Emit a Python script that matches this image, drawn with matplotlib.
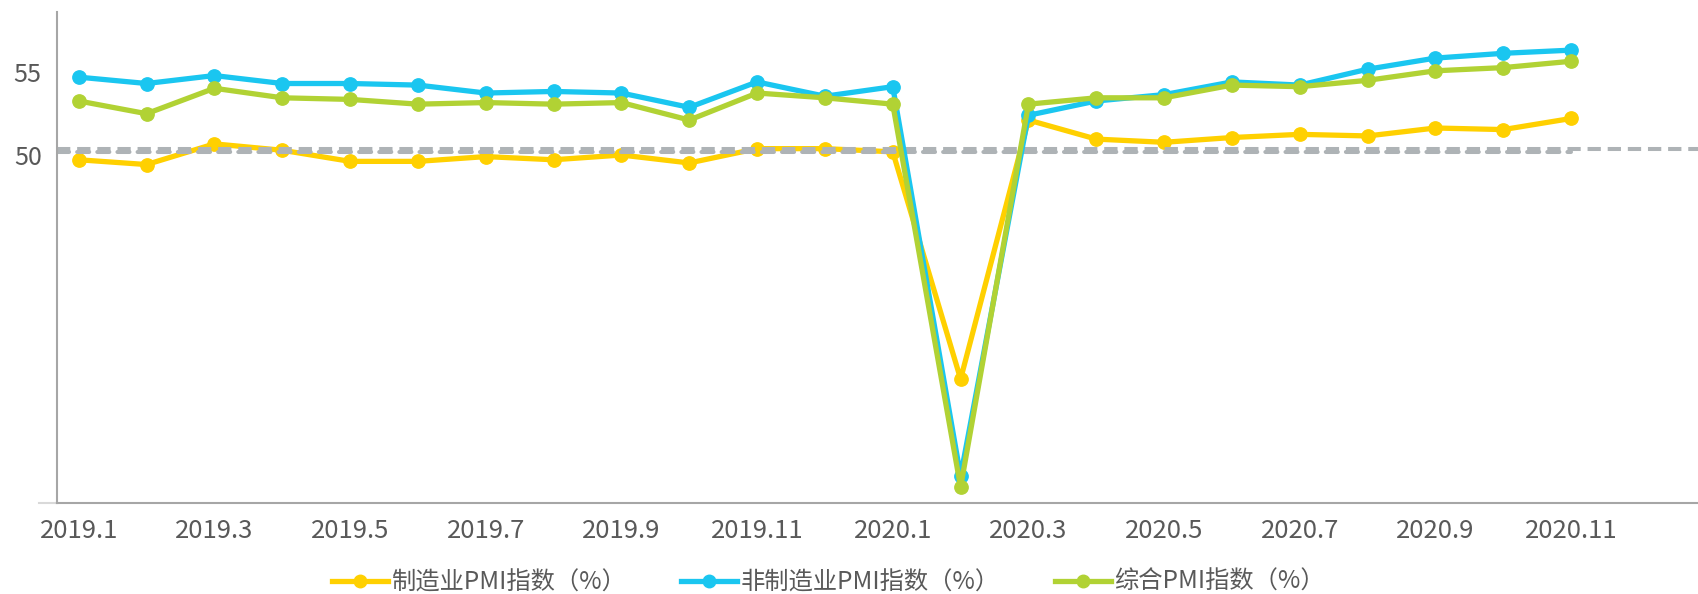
import numpy as np
import matplotlib
matplotlib.use('Agg')
import matplotlib.pyplot as plt
from matplotlib.lines import Line2D
from matplotlib.transforms import ScaledTranslation

plt.rcParams['font.family'] = ['Noto Sans CJK SC', 'DejaVu Sans']

# monthly PMI, 2019.1 - 2020.11
months = ['2019.1', '2019.2', '2019.3', '2019.4', '2019.5', '2019.6', '2019.7', '2019.8',
          '2019.9', '2019.10', '2019.11', '2019.12', '2020.1', '2020.2', '2020.3', '2020.4',
          '2020.5', '2020.6', '2020.7', '2020.8', '2020.9', '2020.10', '2020.11']
manufacturing = [49.5, 49.2, 50.5, 50.1, 49.4, 49.4, 49.7, 49.5, 49.8, 49.3, 50.2, 50.2,
                 50.0, 35.7, 52.0, 50.8, 50.6, 50.9, 51.1, 51.0, 51.5, 51.4, 52.1]
non_manufacturing = [54.7, 54.3, 54.8, 54.3, 54.3, 54.2, 53.7, 53.8, 53.7, 52.8, 54.4, 53.5,
                     54.1, 29.6, 52.3, 53.2, 53.6, 54.4, 54.2, 55.2, 55.9, 56.2, 56.4]
composite = [53.2, 52.4, 54.0, 53.4, 53.3, 53.0, 53.1, 53.0, 53.1, 52.0, 53.7, 53.4,
             53.0, 28.9, 53.0, 53.4, 53.4, 54.2, 54.1, 54.5, 55.1, 55.3, 55.7]
series_names = ['制造业PMI指数（%）', '非制造业PMI指数（%）', '综合PMI指数（%）']
threshold = 50.0
y_ticks = [50, 55]

colors = ['#FFD000', '#1AC6F0', '#B1D234']
grey_dash = '#AEB3B6'
text_col = '#595959'

x = np.arange(len(months))
x_lo, x_hi = -0.32, 23.87

fig = plt.figure(figsize=(16.98, 5.94), dpi=100)
ax = fig.add_axes([57 / 1698, 1 - 503 / 594, 1 - 57 / 1698, (503 - 12) / 594])

# boom/bust line at 50 (drawn twice in the original, slightly offset)
ax.axhline(threshold + 0.2, color=grey_dash, lw=2.9, dashes=(3.3, 1.7), zorder=2.5)
ax.hlines(threshold, x_lo, x[-1], color=grey_dash, lw=2.9, linestyles=(0, (3.0, 2.0)),
          capstyle='round', zorder=2.4)

line_kw = dict(lw=3.8, marker='o', markersize=9.6, solid_joinstyle='round')
ax.plot(x, manufacturing, color=colors[0], label=series_names[0], zorder=2, **line_kw)
ax.plot(x, non_manufacturing, color=colors[1], label=series_names[1], zorder=3, **line_kw)
ax.plot(x, composite, color=colors[2], label=series_names[2], zorder=4, **line_kw)

ax.set_xlim(x_lo, x_hi)
ax.set_ylim(27.9, 58.8)

ax.set_xticks(x[::2])
ax.set_xticklabels(months[::2])
ax.set_yticks(y_ticks)
ax.tick_params(axis='x', length=0, pad=11, labelsize=18.5, labelcolor=text_col)
ax.tick_params(axis='y', length=0, pad=11, labelsize=18, labelcolor=text_col)
# the "50" label sits a little low in the original
lab50 = ax.get_yticklabels()[0]
lab50.set_transform(lab50.get_transform() + ScaledTranslation(0, -0.03, fig.dpi_scale_trans))

for s in ['top', 'right']:
    ax.spines[s].set_visible(False)
ax.spines['left'].set_color('#A6A6A6')
ax.spines['left'].set_linewidth(1.5)
ax.spines['bottom'].set_color('#A6A6A6')
ax.spines['bottom'].set_linewidth(1.5)
ax.add_line(Line2D([-18 / 1641, 0], [0, 0], transform=ax.transAxes, color='#D9D9D9',
                   lw=1.5, clip_on=False))

leg = fig.legend(loc='center', bbox_to_anchor=(0.488, 0.02), ncol=3, frameon=False,
                 fontsize=17.5, handlelength=2.3, handletextpad=0.15, columnspacing=2.25,
                 labelcolor=text_col)
for h in leg.legend_handles:
    h.set_markersize(9)

fig.savefig('out.png', dpi=100)
